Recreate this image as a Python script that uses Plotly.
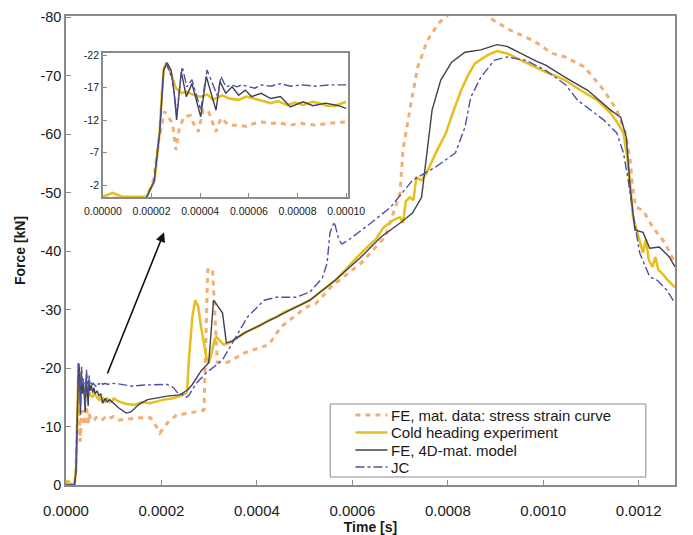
import plotly.graph_objects as go

# ---------------- data (time in s, force in kN) ----------------
exp_t = [0, 0.000004, 0.000008, 0.000018, 0.0000213, 0.0000233, 0.0000244, 0.000025, 0.000026,
         0.000028, 0.00003, 0.0000326, 0.000034, 0.000037, 0.00004, 0.000043, 0.0000452, 0.000049,
         0.000052, 0.0000557, 0.000059, 0.0000624, 0.000066, 0.000069, 0.000072, 0.0000757, 0.000079,
         0.0000823, 0.000086, 0.000089, 0.000092, 0.0000955, 0.0001,
         0.00011, 0.000125, 0.000144, 0.00016, 0.000175, 0.000191, 0.000205, 0.000222, 0.000242, 0.000252,
         0.000254, 0.000258, 0.000265, 0.000271, 0.000277, 0.000283, 0.000289, 0.000295, 0.000299,
         0.000305, 0.000311, 0.000315, 0.000321, 0.00033, 0.000338, 0.000348,
         0.000374, 0.00039, 0.000407, 0.000425, 0.000441, 0.000458, 0.000476, 0.000494, 0.000511,
         0.000537, 0.000564, 0.000588, 0.000608, 0.000629, 0.000649, 0.000665, 0.000686, 0.0007,
         0.000706, 0.000712, 0.00072, 0.000728, 0.000734, 0.000745, 0.000755, 0.000775, 0.000796,
         0.000812, 0.000828, 0.000842, 0.000857, 0.000883, 0.000903, 0.000924, 0.000944, 0.000964,
         0.000985, 0.001005, 0.001025, 0.001046, 0.001072, 0.001093, 0.001113, 0.001141, 0.001155,
         0.001168, 0.001176, 0.001182, 0.001188, 0.001196, 0.001202, 0.001209, 0.001215, 0.001221,
         0.001229, 0.001235, 0.001241, 0.001249, 0.001261, 0.001276]
exp_f = [-0.2, -0.8, -0.2, -0.2, -2.8, -10, -17.1, -19.9, -20.7,
         -19.2, -16.9, -16.1, -16.4, -15.9, -15.6, -15.9, -15.1, -15.8,
         -15.3, -15.1, -15.6, -15.3, -14.9, -14.6, -14.9, -14.3, -14.7,
         -14.3, -14.8, -14.6, -14.2, -14.2, -14.8,
         -14.3, -13.9, -13.7, -14.2, -14.0, -14.3, -14.6, -14.8, -15.3, -15.7,
         -16.5, -22, -29, -31.6, -30.5, -27, -24, -21.5, -20.9,
         -22.5, -24.8, -25.3, -24.8, -24.0, -24.2, -24.6,
         -26.0, -26.6, -27.3, -28.2, -28.7, -29.6, -30.2, -30.9, -31.6,
         -33.3, -35.0, -37.0, -38.8, -40.5, -42.0, -44.0, -45.3, -45.8,
         -44.8, -48.5, -49.2, -48.7, -52.6, -52.1, -53.3, -56.8, -60.2,
         -64.0, -67.5, -70.0, -72.1, -73.5, -74.2, -73.8, -73.0, -72.1,
         -71.4, -70.6, -70.0, -69.2, -67.8, -66.8, -65.8, -63.6, -62.0,
         -60.2, -56.0, -51.6, -45.8, -43.5, -41.9, -39.7, -42.0, -38.5,
         -37.3, -39.0, -36.8, -36.2, -35.0, -33.8]

fe4d_t = [0, 0.0000178, 0.000021, 0.0000233, 0.000025, 0.0000264, 0.000028, 0.0000293, 0.0000303,
          0.0000322, 0.0000343, 0.0000366, 0.0000402, 0.0000425, 0.0000445, 0.0000465, 0.0000481,
          0.0000505, 0.0000531, 0.0000558, 0.0000585, 0.0000611, 0.000065, 0.000069, 0.000073,
          0.000077, 0.0000823, 0.0000863, 0.0000916, 0.0000969, 0.0001,
          0.00011, 0.000126, 0.000136, 0.000153, 0.000171, 0.000212, 0.000238, 0.000254, 0.000264,
          0.000283, 0.000299, 0.000303, 0.000309, 0.000313, 0.000328, 0.000336, 0.000348,
          0.000374, 0.000441, 0.000511, 0.000564, 0.000616, 0.000639, 0.00066, 0.0007, 0.000726,
          0.000745, 0.000751, 0.000757, 0.000767, 0.000785, 0.000808, 0.000836, 0.000869, 0.000903,
          0.000924, 0.000944, 0.000964, 0.000985, 0.001005, 0.001046, 0.001093, 0.001141, 0.001162,
          0.001174, 0.001182, 0.001192, 0.001209, 0.001223, 0.001243, 0.001264, 0.001276]
fe4d_f = [0, 0, -2.5, -10, -19.7, -20.8, -19.7, -16.1, -12,
          -19.4, -15.6, -17.6, -12.5, -18.7, -16.1, -13.5, -17.9,
          -16.1, -17.1, -15.8, -16.6, -15.6, -16.1, -15.3, -15.6,
          -14.0, -14.8, -14.2, -14.6, -14.2, -13.8,
          -13.2, -12.3, -12.5, -13.8, -14.6, -15.2, -15.4, -16.2, -17.1,
          -19.5, -20.9, -25.0, -31.6, -31.2, -29.4, -24.3, -24.6,
          -26.0, -28.7, -31.6, -35.0, -38.8, -40.7, -42.4, -44.8, -46.5,
          -49.2, -53.3, -57.8, -64.1, -69.2, -72.3, -74.0, -74.4, -75.3,
          -75.0, -74.2, -73.3, -72.5, -71.8, -69.7, -67.5, -64.1, -62.9,
          -59.5, -50.9, -43.6, -43.2, -40.5, -40.7, -39.0, -37.3]

jc_t = [0, 0.0000178, 0.000021, 0.0000233, 0.000025, 0.000026, 0.0000286, 0.0000303, 0.0000326,
        0.0000345, 0.0000366, 0.0000402, 0.0000428, 0.0000452, 0.0000472, 0.0000485, 0.0000505,
        0.0000531, 0.0000551, 0.000057, 0.0000624, 0.000065, 0.000069, 0.000073, 0.000077, 0.000082,
        0.0000876, 0.000093, 0.0001,
        0.00011, 0.000138, 0.000165, 0.000212, 0.000226, 0.000232, 0.000246, 0.000252, 0.000258,
        0.000273, 0.000293, 0.000328, 0.00036, 0.00038, 0.000415, 0.000441, 0.000482, 0.000511,
        0.000537, 0.000547, 0.000553, 0.000562, 0.000572, 0.000578, 0.000592, 0.000612, 0.000639,
        0.00068, 0.000726, 0.000775, 0.000816, 0.000836, 0.000848, 0.000869, 0.000897, 0.000924,
        0.000964, 0.001005, 0.001046, 0.001072, 0.001127, 0.001154, 0.001168, 0.001178, 0.001188,
        0.001202, 0.001223, 0.001239, 0.001259, 0.001276]
jc_f = [0, 0, -2.5, -10, -19.7, -20.8, -18.2, -13.0, -20.2,
        -17.1, -18.2, -13.5, -19.7, -17.6, -15.6, -18.7, -17.1,
        -17.4, -17.1, -17.4, -16.9, -17.4, -17.2, -17.6, -17.2, -17.4,
        -17.2, -17.4, -17.4,
        -17.3, -16.9, -17.1, -17.2, -16.6, -15.9, -15.4, -15.0, -15.4,
        -17.4, -19.1, -21.4, -26.0, -28.7, -31.6, -32.1, -32.1, -33.0,
        -35.4, -37.9, -43.1, -45.0, -41.9, -41.2, -41.9, -43.1, -44.8,
        -47.5, -52.1, -54.4, -56.8, -61.2, -66.3, -69.7, -72.6, -73.2,
        -72.6, -70.9, -68.5, -65.8, -62.4, -60.2, -56.8, -52.1, -46.5,
        -39.7, -35.6, -35.0, -33.3, -31.1]

ssc_t = [0, 0.0000178, 0.000021, 0.000023, 0.0000253, 0.0000286, 0.00003, 0.0000313, 0.0000333,
         0.0000359, 0.0000372, 0.0000392, 0.0000412, 0.0000432, 0.0000452, 0.0000465, 0.0000485,
         0.0000518, 0.0000558, 0.0000591, 0.0000624, 0.0000657, 0.000069, 0.000073, 0.000077,
         0.000081, 0.0000876, 0.0000929, 0.0000995,
         0.00011, 0.000157, 0.000177, 0.000185, 0.000197, 0.000212, 0.000232, 0.000258, 0.000289,
         0.000297, 0.000307, 0.000317, 0.00034, 0.000374, 0.000409, 0.000425, 0.00045, 0.000503,
         0.000523, 0.000557, 0.000619, 0.000669, 0.00069, 0.0007, 0.000706, 0.000714, 0.000724,
         0.000737, 0.000757, 0.000781, 0.000802, 0.000842, 0.000873, 0.000889, 0.00093, 0.000979,
         0.001019, 0.001046, 0.001086, 0.001127, 0.001154, 0.001172, 0.001182, 0.001188, 0.001194,
         0.001209, 0.001229, 0.001255, 0.001276]
ssc_f = [0, 0, -3.0, -9.0, -13.3, -11.5, -7.4, -10.5, -12.5,
         -12.7, -11.5, -10.2, -13.5, -13.5, -11.5, -10.2, -12.3,
         -11.2, -11.2, -11.0, -11.5, -11.7, -11.5, -11.5, -11.2,
         -11.5, -11.2, -11.5, -11.7,
         -11.1, -11.5, -11.5, -10.6, -8.9, -10.6, -12.0, -12.3, -12.8,
         -36.8, -37.0, -21.0, -21.0, -22.6, -23.6, -24.0, -27.0, -30.4,
         -31.0, -34.0, -38.0, -42.5, -47.5, -50.0, -57.3, -61.2, -65.8,
         -71.5, -76.0, -79.0, -80.5, -81.5, -81.0, -79.8, -77.8, -76.0,
         -73.8, -73.2, -71.5, -67.5, -64.1, -60.2, -55.6, -50.4, -47.5,
         -47.0, -44.1, -41.4, -37.9]

x_ticks = [0, 0.0002, 0.0004, 0.0006, 0.0008, 0.0010, 0.0012]
y_ticks = [0, -10, -20, -30, -40, -50, -60, -70, -80]
inset_x_ticks = [0, 0.00002, 0.00004, 0.00006, 0.00008, 0.0001]
inset_y_ticks = [-2, -7, -12, -17, -22]
inset_t_max = 0.0001

# arrow (data coordinates of tail and head)
arrow_tail = (0.0000855, -18.8)
arrow_head = (0.0002055, -43.2)

series = [
    ("FE, mat. data: stress strain curve", ssc_t, ssc_f, dict(color="#F3AE74", width=3, dash="5px,5px")),
    ("Cold heading experiment", exp_t, exp_f, dict(color="#E6BE1E", width=2.5)),
    ("FE, 4D-mat. model", fe4d_t, fe4d_f, dict(color="#3D4252", width=1.4)),
    ("JC", jc_t, jc_f, dict(color="#4F4FA8", width=1.4, dash="dashdot")),
]

FONT = "Liberation Sans, Arial, sans-serif"
W, H = 693, 535
ML, MR, MT, MB = 66, 0, 16, 50
PW, PH = W - ML - MR, H - MT - MB


def px(xp):
    return (xp - ML) / PW


def py(yp):
    return (H - MB - yp) / PH


fig = go.Figure()
for name, t, f, ln in series:
    fig.add_trace(go.Scatter(x=t, y=f, mode="lines", name=name, line=ln,
                             xaxis="x", yaxis="y", showlegend=False))
for name, t, f, ln in series:
    tt = [a for a in t if a <= inset_t_max * 1.01]
    ff = f[:len(tt)]
    fig.add_trace(go.Scatter(x=tt, y=ff, mode="lines", name=name, line=ln,
                             xaxis="x2", yaxis="y2", showlegend=False))

# legend box drawn as layout items (so its spacing matches the original)
shapes = [dict(type="rect", xref="paper", yref="paper", x0=px(338), x1=px(663), y0=py(477),
               y1=py(404), line=dict(color="#8a8a8a", width=1), fillcolor="white", layer="above")]
annotations = [dict(x=arrow_head[0], y=arrow_head[1], ax=arrow_tail[0], ay=arrow_tail[1],
                    xref="x", yref="y", axref="x", ayref="y", showarrow=True, text="",
                    arrowhead=2, arrowsize=1.2, arrowwidth=1.6, arrowcolor="#111111")]
leg_rows = [415, 432.5, 450, 467]
for (name, t, f, ln), yr in zip(series, leg_rows):
    shapes.append(dict(type="line", xref="paper", yref="paper", x0=px(364), x1=px(397),
                       y0=py(yr), y1=py(yr), line=ln, layer="above"))
    annotations.append(dict(x=px(399), y=py(yr), xref="paper", yref="paper", text=name,
                            showarrow=False, xanchor="left", yanchor="middle",
                            font=dict(size=15, color="#1a1a1a")))

axis_line = dict(showline=True, linecolor="#8a8a8a", linewidth=1.5, ticks="inside",
                 tickcolor="#8a8a8a", showgrid=False, zeroline=False)

fig.update_layout(
    width=W, height=H,
    margin=dict(l=ML, r=MR, t=MT, b=MB),
    paper_bgcolor="white", plot_bgcolor="white",
    font=dict(family=FONT, color="#1a1a1a", size=14),
    showlegend=False,
    xaxis=dict(domain=[0, 1], range=[0, 0.001276], tickvals=x_ticks,
               ticktext=[f"{v:.4f}" for v in x_ticks],
               ticklen=5, mirror=True, ticklabelstandoff=11,
               title=dict(text="<b>Time [s]</b>", font=dict(size=14), standoff=0),
               tickfont=dict(size=15), **axis_line),
    yaxis=dict(domain=[0, 1], range=[0, -80.2], tickvals=y_ticks,
               ticktext=[str(v) for v in y_ticks], ticklen=5, mirror=True,
               title=dict(text="<b>Force [kN]</b>", font=dict(size=14), standoff=11),
               tickfont=dict(size=14.5), **axis_line),
    xaxis2=dict(domain=[0.0606, 0.4625], anchor="y2", range=[0, 0.0001006],
                tickvals=inset_x_ticks, ticktext=[f"{v:.5f}" for v in inset_x_ticks],
                ticklen=4, mirror=True,
                ticklabelstandoff=4, tickfont=dict(size=10.5), **axis_line),
    yaxis2=dict(domain=[0.614, 0.921], anchor="x2", range=[-0.15, -22.3],
                tickvals=inset_y_ticks, ticktext=[str(v) for v in inset_y_ticks],
                ticklen=4, mirror=True,
                tickfont=dict(size=10.5), **axis_line),
    shapes=shapes,
    annotations=annotations,
)

fig.write_html("out.html")
